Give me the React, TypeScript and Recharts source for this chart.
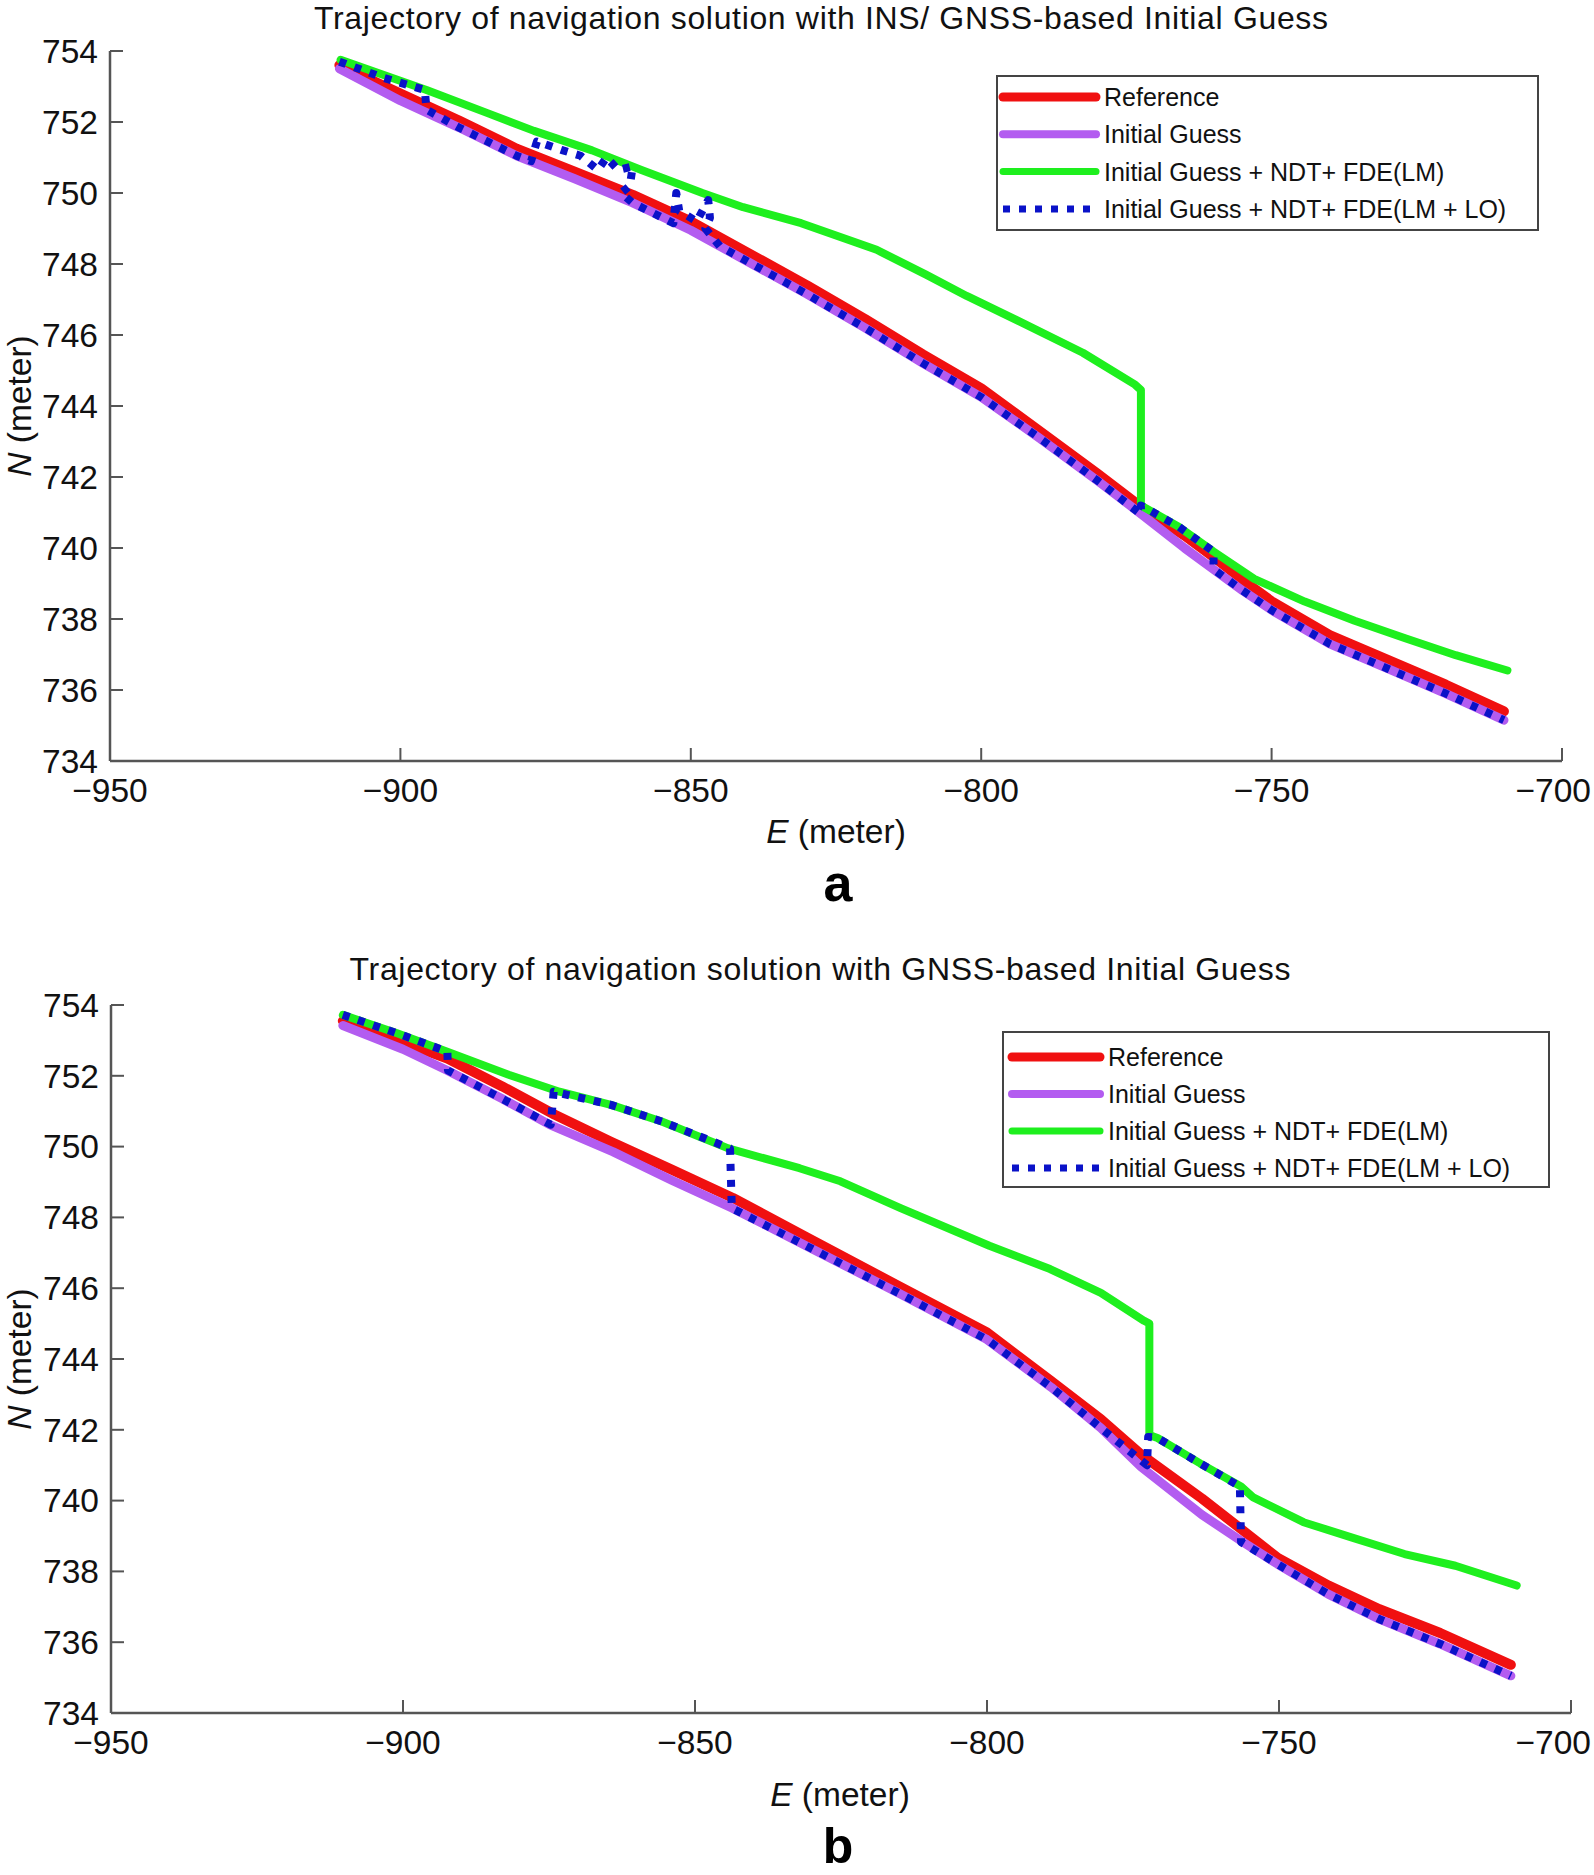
import React from "react";
import { LineChart, Line, XAxis, YAxis, Legend } from "recharts";

type Pt = [number, number]; // [E, N] in meters

const E_TICKS = [-950, -900, -850, -800, -750, -700];
const N_TICKS = [734, 736, 738, 740, 742, 744, 746, 748, 750, 752, 754];

const SERIES_NAMES = [
  "Reference",
  "Initial Guess",
  "Initial Guess + NDT+ FDE(LM)",
  "Initial Guess + NDT+ FDE(LM + LO)",
];

// panel (a): INS/GNSS-based initial guess
const refA: Pt[] = [
  [-910.5, 753.6], [-900, 752.8], [-890, 752.05], [-880, 751.25], [-870, 750.6],
  [-860, 749.95], [-850, 749.2], [-840, 748.3], [-830, 747.4], [-820, 746.45],
  [-810, 745.45], [-800, 744.5], [-790, 743.3], [-780, 742.1], [-772, 741.1],
  [-765, 740.35], [-760, 739.75], [-755, 739.1], [-750, 738.5], [-740, 737.55],
  [-730, 736.85], [-720, 736.15], [-710, 735.4],
];
const guessA: Pt[] = [
  [-910.5, 753.5], [-900, 752.6], [-890, 751.85], [-880, 751.05], [-870, 750.4],
  [-860, 749.72], [-850, 748.95], [-840, 748.05], [-830, 747.15], [-820, 746.2],
  [-810, 745.2], [-800, 744.25], [-790, 743.1], [-780, 741.9], [-772, 740.9],
  [-765, 740.0], [-760, 739.4], [-755, 738.8], [-750, 738.25], [-740, 737.3],
  [-730, 736.6], [-720, 735.9], [-710, 735.15],
];
const lmA: Pt[] = [
  [-910.3, 753.75], [-895.5, 752.9], [-885, 752.25], [-877, 751.75], [-867, 751.2],
  [-858.5, 750.65], [-848, 750.0], [-841, 749.6], [-831, 749.15], [-818, 748.4],
  [-809.5, 747.7], [-802.5, 747.1], [-793, 746.35], [-782.5, 745.5], [-773.5, 744.6],
  [-772.5, 744.45], [-772.5, 741.2], [-766, 740.6], [-760, 739.9], [-753, 739.13],
  [-744.3, 738.49], [-735.7, 737.95], [-727, 737.46], [-718.3, 736.98], [-709.4, 736.55],
];
const lmLoA: Pt[] = [
  [-910.5, 753.7], [-903, 753.25], [-895.8, 752.9], [-895.5, 752.35], [-890, 751.85],
  [-880, 751.05], [-877.5, 750.9], [-876.5, 751.45], [-872, 751.2], [-869, 751.05],
  [-866, 750.65], [-864.5, 751.0], [-862.5, 750.65], [-860, 750.75], [-860.5, 750.2],
  [-862, 750.0], [-860, 749.72], [-853, 749.15], [-852.5, 750.0], [-852, 749.5],
  [-849, 749.2], [-847, 749.8], [-846.7, 749.3], [-847.5, 749.0], [-845, 748.5],
  [-840, 748.05], [-830, 747.15], [-820, 746.2], [-810, 745.2], [-800, 744.25],
  [-790, 743.1], [-780, 741.9], [-772.5, 740.95], [-772.5, 741.2], [-766, 740.6],
  [-760, 739.9], [-760, 739.4], [-755, 738.8], [-750, 738.25], [-740, 737.3],
  [-730, 736.6], [-720, 735.9], [-710, 735.15],
];

// panel (b): GNSS-based initial guess
const refB: Pt[] = [
  [-910.3, 753.55], [-900, 752.95], [-892.4, 752.49], [-883, 751.7], [-874, 750.9],
  [-864.4, 750.14], [-854, 749.35], [-843.5, 748.55], [-831, 747.45], [-815, 746.05],
  [-800, 744.75], [-789.2, 743.4], [-780.5, 742.3], [-773.6, 741.3], [-763.2, 740.06],
  [-756.2, 739.16], [-750.2, 738.38], [-741.5, 737.6], [-732.8, 736.93], [-722.4, 736.26],
  [-710.3, 735.36],
];
const guessB: Pt[] = [
  [-910.3, 753.42], [-900, 752.75], [-892.4, 752.15], [-883, 751.35], [-874.9, 750.62],
  [-864, 749.85], [-854, 749.05], [-843.6, 748.26], [-831, 747.2], [-815, 745.85],
  [-800, 744.55], [-789, 743.2], [-780.5, 742.05], [-773.6, 740.95], [-763.2, 739.6],
  [-756.2, 738.83], [-750.2, 738.2], [-741.5, 737.35], [-732.8, 736.65], [-722.4, 735.95],
  [-710.3, 735.05],
];
const lmB: Pt[] = [
  [-910.3, 753.72], [-901, 753.2], [-892.4, 752.68], [-881.9, 752.03], [-873.2, 751.55],
  [-864.4, 751.18], [-855.7, 750.71], [-844.3, 749.95], [-832.1, 749.39], [-825.1, 749.02],
  [-814.8, 748.26], [-799.6, 747.2], [-789.2, 746.54], [-780.5, 745.87], [-773.1, 745.08],
  [-772.2, 745.0], [-772.2, 741.85], [-770.8, 741.77], [-763.5, 741.05], [-756.5, 740.4],
  [-754.5, 740.1], [-745.8, 739.39], [-737.2, 738.94], [-728.5, 738.49], [-719.8, 738.16],
  [-709.3, 737.6],
];
const lmLoB: Pt[] = [
  [-910.3, 753.72], [-901, 753.2], [-892.4, 752.68], [-892.3, 752.15], [-883, 751.35],
  [-874.7, 750.62], [-874.2, 751.55], [-864.4, 751.18], [-855.7, 750.71], [-844, 749.95],
  [-843.7, 748.26], [-831, 747.2], [-815, 745.85], [-800, 744.55], [-789, 743.2],
  [-780.5, 742.05], [-772.6, 741.0], [-772.4, 741.8], [-770.8, 741.77], [-763.5, 741.05],
  [-756.7, 740.4], [-756.5, 738.83], [-750.2, 738.2], [-741.5, 737.35], [-732.8, 736.65],
  [-722.4, 735.95], [-710.3, 735.05],
];

// line styles, same order as SERIES_NAMES
const STYLES = [
  { color: "#f01010", width: 10, dash: undefined as string | undefined },
  { color: "#b35cf0", width: 9, dash: undefined as string | undefined },
  { color: "#1eef1e", width: 8, dash: undefined as string | undefined },
  { color: "#0a12c8", width: 8, dash: "7 9" },
];

const PAGE_W = 1594;
const FONT = '"Liberation Sans", Arial, Helvetica, sans-serif';
const FS = 33.5;
const AXIS = { stroke: "#555", strokeWidth: 2.5 };
const TICK_LINE = { stroke: "#555", strokeWidth: 2 };
const TICK_LEN = 13;

const fmt = (v: number) => (v < 0 ? `\u2212${Math.abs(v)}` : `${v}`);
const toRows = (pts: Pt[]) => pts.map(([e, n]) => ({ e, n }));

// bottom tick label; the last one is kept inside the page
function ETick(props: any) {
  const { x, y, payload } = props;
  const last = payload.value === E_TICKS[E_TICKS.length - 1];
  return (
    <text x={last ? PAGE_W - 3 : x} y={y} dy="0.71em" textAnchor={last ? "end" : "middle"}
      fontSize={FS} fill="#111">
      {fmt(payload.value)}
    </text>
  );
}

interface Box { left: number; right: number; top: number; bottom: number }
interface LegendGeom {
  left: number; top: number; width: number; height: number;
  rowTop: number; rowStep: number; sampleX: number; sampleLen: number; textX: number;
}

function LegendBox({ g }: { g: LegendGeom }) {
  return (
    <svg width={g.width} height={g.height} style={{ display: "block", fontFamily: FONT }}>
      <rect x={1} y={1} width={g.width - 2} height={g.height - 2} fill="#fff" stroke="#444" strokeWidth={2} />
      {SERIES_NAMES.map((name, i) => {
        const y = g.rowTop + i * g.rowStep;
        const s = STYLES[i];
        return (
          <g key={name}>
            <line x1={g.sampleX} x2={g.sampleX + g.sampleLen} y1={y} y2={y}
              stroke={s.color} strokeWidth={s.width - 1} strokeDasharray={s.dash}
              strokeLinecap={s.dash ? "butt" : "round"} />
            <text x={g.textX} y={y + 9} fontSize={25} fill="#111">{name}</text>
          </g>
        );
      })}
    </svg>
  );
}

function Panel({ top, height, plot, legend, series }: {
  top: number; height: number; plot: Box; legend: LegendGeom; series: Pt[][];
}) {
  const xAxisH = 60;
  const margin = {
    top: plot.top - top,
    right: PAGE_W - plot.right,
    left: 0,
    bottom: top + height - plot.bottom - xAxisH,
  };
  return (
    <div style={{ position: "absolute", left: 0, top, fontFamily: FONT }}>
      <LineChart width={PAGE_W} height={height} margin={margin}>
        <XAxis type="number" dataKey="e" domain={[-950, -700]} ticks={E_TICKS} interval={0}
          allowDataOverflow height={xAxisH} tickSize={-TICK_LEN} tickMargin={17 + TICK_LEN}
          tick={<ETick />} axisLine={AXIS} tickLine={TICK_LINE} />
        <XAxis xAxisId="top" orientation="top" type="number" domain={[-950, -700]} ticks={E_TICKS}
          interval={0} height={0} tickSize={-TICK_LEN} tick={false} axisLine={AXIS} tickLine={TICK_LINE} />
        <YAxis type="number" domain={[734, 754]} ticks={N_TICKS} interval={0} allowDataOverflow
          width={plot.left} tickSize={-TICK_LEN} tickMargin={12 + TICK_LEN} tickFormatter={fmt}
          tick={{ fontSize: FS, fill: "#111" }} axisLine={AXIS} tickLine={TICK_LINE} />
        <YAxis yAxisId="right" orientation="right" type="number" domain={[734, 754]} ticks={N_TICKS}
          interval={0} width={0} tickSize={-TICK_LEN} tick={false} axisLine={AXIS} tickLine={TICK_LINE} />
        {series.map((pts, i) => (
          <Line key={SERIES_NAMES[i]} name={SERIES_NAMES[i]} data={toRows(pts)} dataKey="n"
            type="linear" stroke={STYLES[i].color} strokeWidth={STYLES[i].width}
            strokeDasharray={STYLES[i].dash} strokeLinecap={STYLES[i].dash ? "butt" : "round"}
            strokeLinejoin="round" dot={false} activeDot={false} isAnimationActive={false} />
        ))}
        <Legend layout="vertical" align="center" verticalAlign="middle"
          wrapperStyle={{ left: legend.left, top: legend.top - top, width: legend.width, height: legend.height }}
          content={() => <LegendBox g={legend} />} />
      </LineChart>
    </div>
  );
}

export default function App() {
  return (
    <div style={{ position: "absolute", left: 0, top: 0, width: PAGE_W, height: 1875, background: "#fff", fontFamily: FONT }}>
      <Panel
        top={0}
        height={905}
        plot={{ left: 110, right: 1562, top: 51, bottom: 761 }}
        legend={{ left: 996, top: 75, width: 543, height: 156, rowTop: 22, rowStep: 37.3, sampleX: 7, sampleLen: 93, textX: 108 }}
        series={[refA, guessA, lmA, lmLoA]}
      />
      <Panel
        top={940}
        height={935}
        plot={{ left: 111, right: 1571, top: 1005, bottom: 1713 }}
        legend={{ left: 1002, top: 1031, width: 548, height: 157, rowTop: 26, rowStep: 37, sampleX: 10, sampleLen: 88, textX: 106 }}
        series={[refB, guessB, lmB, lmLoB]}
      />
      <svg width={PAGE_W} height={1875} style={{ position: "absolute", left: 0, top: 0, pointerEvents: "none", fontFamily: FONT }}>
        <text x={821} y={29} fontSize={32} textAnchor="middle" fill="#111" textLength={1014} lengthAdjust="spacing">
          Trajectory of navigation solution with INS/ GNSS-based Initial Guess
        </text>
        <text x={836} y={843} fontSize={FS} textAnchor="middle" fill="#111">
          <tspan fontStyle="italic">E</tspan> (meter)
        </text>
        <text x={31} y={406} fontSize={FS} textAnchor="middle" fill="#111" transform="rotate(-90 31 406)">
          <tspan fontStyle="italic">N</tspan> (meter)
        </text>
        <text x={838} y={901} fontSize={52} fontWeight="bold" textAnchor="middle" fill="#000">a</text>

        <text x={820} y={980} fontSize={32} textAnchor="middle" fill="#111" textLength={941} lengthAdjust="spacing">
          Trajectory of navigation solution with GNSS-based Initial Guess
        </text>
        <text x={840} y={1806} fontSize={FS} textAnchor="middle" fill="#111">
          <tspan fontStyle="italic">E</tspan> (meter)
        </text>
        <text x={31} y={1359} fontSize={FS} textAnchor="middle" fill="#111" transform="rotate(-90 31 1359)">
          <tspan fontStyle="italic">N</tspan> (meter)
        </text>
        <text x={838} y={1863} fontSize={50} fontWeight="bold" textAnchor="middle" fill="#000">b</text>
      </svg>
    </div>
  );
}
